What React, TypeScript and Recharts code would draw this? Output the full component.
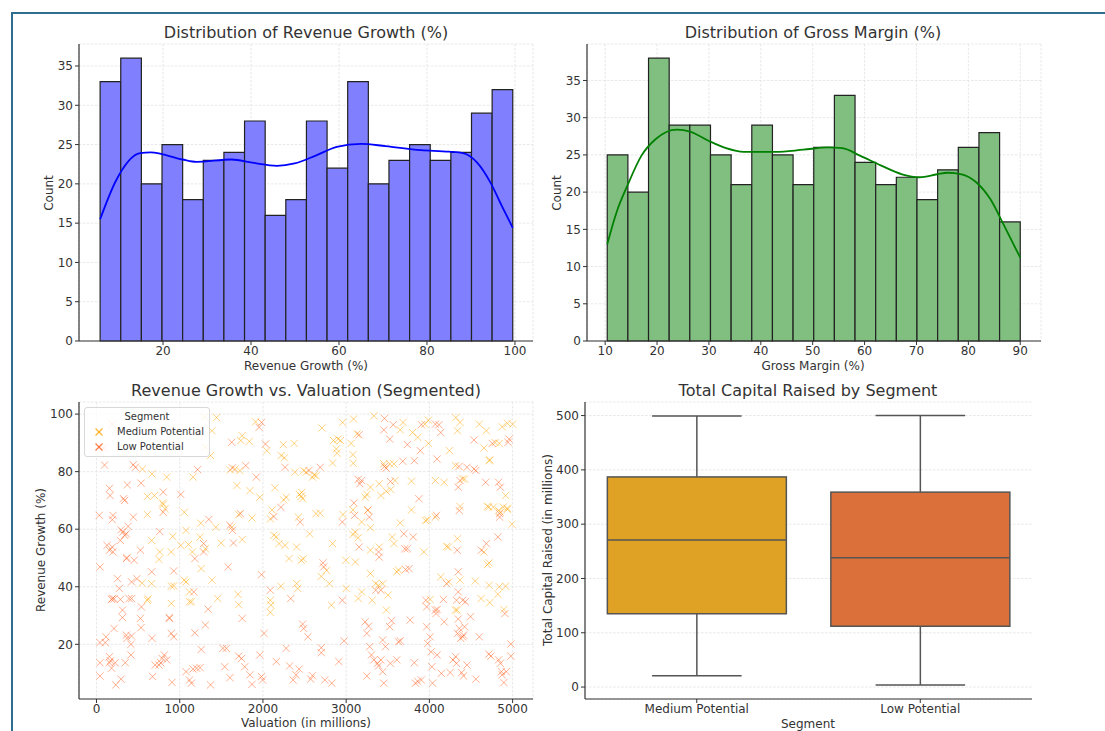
import React from "react";
import {
  ComposedChart,
  Line,
  XAxis,
  YAxis,
  CartesianGrid,
  ReferenceArea,
  ScatterChart,
  Scatter,
  BarChart,
  Bar,
  Cell,
} from "recharts";

const FONT = "'DejaVu Sans', sans-serif";
const TEXT = "#333333";
const AXIS = "#333333";
const GRID = "#e2e2e2";
const MEDIUM = "#ffa500";
const LOW = "#ff6020";

// ---- histogram: revenue growth ----
const revenueEdges = [
  5.7, 10.39, 15.08, 19.77, 24.46, 29.15, 33.84, 38.53, 43.22, 47.91, 52.6,
  57.29, 61.98, 66.67, 71.36, 76.05, 80.74, 85.43, 90.12, 94.81, 99.5,
];
const revenueCounts = [33, 36, 20, 25, 18, 23, 24, 28, 16, 18, 28, 22, 33, 20, 23, 25, 23, 24, 29, 32];
const revenueKdeX = [5.7, 9.3, 14.8, 17.2, 24.4, 27.6, 35.6, 40.3, 45.9, 49.9, 54.7, 59.5, 65, 70.6, 78.6, 85, 88.2, 91.4, 94.5, 97, 99.5];
const revenueKdeY = [15.5, 20.4, 23.9, 24.0, 23.1, 22.8, 23.1, 22.7, 22.3, 22.6, 23.6, 24.7, 25.1, 24.8, 24.3, 24.1, 23.9, 22.7, 20.1, 17.2, 14.4];
const revenueTicks = [20, 40, 60, 80, 100];

// ---- histogram: gross margin ----
const marginEdges = [
  10.4, 14.38, 18.36, 22.34, 26.32, 30.3, 34.28, 38.26, 42.24, 46.22, 50.2,
  54.18, 58.16, 62.14, 66.12, 70.1, 74.08, 78.06, 82.04, 86.02, 90.0,
];
const marginCounts = [25, 20, 38, 29, 29, 25, 21, 29, 25, 21, 26, 33, 24, 21, 22, 19, 23, 26, 28, 16];
const marginKdeX = [10.4, 12.2, 14.3, 17.0, 19.7, 23.8, 26.5, 29.9, 33.3, 36.7, 42.8, 48.2, 52.9, 55.7, 59.1, 63.1, 67.2, 70.6, 74, 76, 78.7, 81.4, 84.2, 86.9, 90];
const marginKdeY = [13.0, 17.3, 20.9, 24.9, 27.1, 28.4, 28.1, 26.9, 25.9, 25.4, 25.4, 25.7, 26.0, 25.9, 24.9, 23.6, 22.4, 22.0, 22.4, 22.6, 22.4, 21.4, 19.1, 15.5, 11.2];
const marginTicks = [10, 20, 30, 40, 50, 60, 70, 80, 90];

const countTicks = [0, 5, 10, 15, 20, 25, 30, 35];

// ---- scatter: [valuation, revenue growth] ----
const mediumPoints = [
  [1443, 98.8], [1388, 94.2], [1371, 85.6], [1308, 88.5], [1300, 99.0], [1912, 97.3], [1751, 92.5], [1734, 90.8],
  [1836, 90.5], [2047, 87.3], [2245, 89.4], [2376, 89.8], [2220, 85.6], [2258, 84.8], [2709, 95.2], [2848, 90.8],
  [2903, 91.3], [2933, 90.8], [2882, 87.9], [2890, 86.4], [2958, 97.1], [3089, 98.3], [3060, 89.8], [3131, 93.1],
  [3081, 85.9], [3334, 99.4], [3684, 97.1], [3650, 94.5], [3798, 93.6], [3861, 91.9], [3946, 96.5], [3988, 97.9],
  [3988, 89.8], [4241, 87.3], [4317, 98.8], [4338, 94.2], [4368, 97.1], [4313, 82.1], [4423, 77.4], [4600, 96.5],
  [4684, 94.2], [4655, 88.2], [4790, 90.1], [4840, 89.8], [4874, 95.6], [4937, 96.8], [5000, 96.5], [4718, 83.8],
  [553, 80.9], [667, 79.2], [612, 71.4], [696, 71.7], [844, 78.1], [793, 69.1], [1160, 78.1], [1608, 80.6],
  [1667, 80.9], [1722, 80.4], [1688, 75.2], [1844, 73.4], [1962, 71.1], [2144, 74.4], [2249, 70.2], [2279, 71.1],
  [2384, 79.8], [2439, 72.1], [2460, 71.4], [2477, 70.6], [2465, 72.8], [2490, 80.4], [2519, 79.8], [2595, 78.1],
  [2616, 78.9], [2637, 78.6], [2836, 83.0], [3085, 82.9], [3228, 71.1], [3249, 72.1], [3292, 74.6], [3397, 75.8],
  [3418, 71.7], [3482, 73.2], [3536, 73.8], [3452, 82.7], [3524, 82.7], [3574, 82.7], [3587, 76.9], [3785, 76.7],
  [4072, 76.9], [4178, 76.3], [4397, 77.5], [4714, 67.7], [4726, 84.1], [4887, 67.7], [4832, 66.5], [4916, 71.7],
  [4937, 67.3], [4769, 67.7],
  [612, 65.1], [663, 56.1], [760, 52.1], [823, 67.1], [802, 68.6], [899, 52.1], [916, 57.5], [1013, 54.4],
  [1055, 65.9], [1076, 59.6], [1106, 54.7], [1152, 52.1], [1245, 57.3], [1253, 62.1], [1308, 53.2], [1435, 60.7],
  [1498, 55.2], [1625, 60.7], [1709, 65.1], [1751, 56.4], [1869, 63.9], [2089, 63.6], [2110, 66.7], [2131, 57.9],
  [2161, 57.3], [2194, 55.0], [2266, 54.4], [2313, 49.8], [2405, 53.8], [2426, 64.2], [2561, 58.4], [2637, 65.4],
  [2688, 65.6], [2836, 55.0], [2962, 65.1], [3081, 66.7], [3081, 58.2], [3110, 59.0], [3144, 57.0], [3186, 62.5],
  [3258, 66.5], [3292, 60.5], [3292, 52.7], [3397, 53.8], [3553, 57.3], [3574, 55.0], [3650, 62.2], [3785, 66.7],
  [3933, 52.1], [3954, 63.0], [3975, 63.3], [4072, 64.2], [4207, 54.0], [4228, 53.8], [4338, 56.7], [4368, 67.9],
  [4655, 52.1], [4697, 67.9], [4853, 65.9], [4992, 61.7], [4937, 66.9],
  [549, 41.3], [663, 41.1], [620, 35.8], [612, 35.3], [751, 49.5], [899, 40.2], [928, 40.3], [899, 34.2],
  [1076, 41.7], [1118, 38.2], [1118, 34.8], [1140, 34.8], [1055, 42.3], [1258, 46.3], [1388, 42.3], [1456, 35.9],
  [1701, 37.4], [1709, 33.8], [2089, 35.3], [2097, 33.6], [2089, 31.1], [2216, 40.2], [2405, 41.1], [2418, 39.4],
  [2460, 49.2], [2485, 49.7], [2701, 43.6], [2764, 45.7], [2798, 41.1], [2823, 33.6], [3000, 39.4], [2996, 49.2],
  [3110, 48.6], [3144, 35.9], [3186, 38.2], [3292, 44.6], [3313, 35.3], [3355, 41.1], [3389, 40.5], [3440, 41.1],
  [3482, 31.9], [3503, 37.1], [3608, 45.2], [3629, 45.8], [4009, 35.6], [4136, 43.4], [4233, 41.7], [4313, 31.9],
  [4334, 31.9], [4368, 42.3], [4551, 42.0], [4621, 35.9], [4697, 47.7], [4718, 48.3], [4718, 40.5], [4726, 34.5],
  [4823, 37.4], [4916, 40.2], [4895, 32.1], [4840, 40.0],
];

const lowPoints = [
  [190, 96.5], [84, 88.2], [1983, 97.1], [1954, 95.4], [1625, 90.2], [2030, 89.6], [3156, 92.8], [3452, 94.5],
  [3460, 98.5], [3524, 91.3], [3566, 96.3], [3735, 89.4], [3904, 96.3], [3891, 87.3], [4072, 96.5], [4115, 96.3],
  [4136, 93.6], [4355, 81.8], [4452, 81.5], [4537, 91.0], [4756, 89.8], [4946, 90.2], [4958, 91.3], [4093, 84.4],
  [97, 82.3], [156, 74.2], [164, 71.7], [371, 75.4], [338, 70.0], [443, 82.4], [468, 81.5], [536, 76.0],
  [802, 72.9], [1013, 72.1], [1215, 80.7], [1633, 81.3], [1794, 82.1], [1920, 78.1], [2216, 67.6], [2266, 81.5],
  [2553, 80.4], [2688, 81.5], [3144, 77.3], [3186, 76.9], [3165, 75.8], [3460, 81.8], [3480, 81.2], [3532, 76.6],
  [3680, 83.6], [3819, 83.8], [3874, 70.6], [4347, 74.6], [4368, 76.9], [4537, 80.9], [4558, 80.4], [4676, 76.3],
  [4832, 76.3], [4853, 74.6],
  [34, 64.8], [127, 54.4], [156, 52.7], [190, 53.8], [198, 52.1], [198, 64.8], [190, 63.3], [295, 59.8],
  [316, 59.0], [338, 57.9], [325, 70.6], [359, 58.4], [380, 61.0], [287, 56.1], [367, 50.1], [443, 64.2],
  [452, 49.2], [528, 52.7], [760, 59.2], [802, 65.9], [1182, 49.8], [1287, 55.0], [1287, 52.1], [1350, 63.4],
  [1604, 61.3], [1633, 59.6], [1646, 55.2], [1730, 65.4], [2131, 64.4], [2448, 62.5], [2954, 62.5], [3093, 69.1],
  [3102, 64.8], [3156, 53.8], [3262, 66.7], [3279, 64.2], [3389, 52.1], [3397, 50.3], [3693, 58.4], [3705, 53.2],
  [3735, 53.2], [3806, 57.3], [4085, 64.8], [4334, 52.7], [4359, 66.5], [4625, 52.7], [4684, 55.0], [4823, 57.3],
  [4844, 65.4], [4844, 64.2],
  [42, 46.9], [253, 42.8], [274, 39.4], [287, 35.6], [190, 35.9], [181, 35.6], [211, 35.8], [422, 41.7],
  [486, 42.8], [392, 35.9], [422, 35.9], [359, 49.8], [312, 31.9], [540, 33.0], [663, 45.2], [928, 45.5],
  [874, 29.3], [1169, 38.2], [1583, 46.9], [1751, 29.0], [1983, 44.2], [2089, 38.8], [2334, 35.9], [2722, 48.3],
  [2730, 46.9], [2954, 35.3], [3355, 38.8], [3418, 38.8], [3714, 46.0], [3756, 46.3], [3958, 35.3], [3967, 33.0],
  [4072, 31.9], [4080, 30.7], [4093, 32.1], [4169, 35.6], [4207, 41.1], [4347, 38.2], [4326, 35.3], [4347, 45.2],
  [4401, 35.3], [4431, 34.8], [4907, 30.7],
  [42, 20.6], [105, 20.6], [114, 22.6], [42, 13.6], [42, 9.0], [156, 15.7], [156, 13.6], [168, 14.3],
  [181, 11.7], [224, 13.6], [211, 25.5], [232, 5.9], [295, 7.9], [312, 29.3], [346, 13.6], [359, 23.2],
  [367, 22.1], [414, 20.0], [422, 22.9], [414, 16.3], [528, 29.0], [536, 25.8], [667, 22.1], [675, 8.8],
  [705, 12.8], [751, 12.8], [772, 13.6], [789, 15.1], [815, 16.3], [844, 14.6], [878, 29.0], [899, 23.8],
  [928, 22.6], [907, 6.8], [1076, 10.5], [1118, 7.6], [1140, 6.5], [1160, 11.4], [1182, 24.0], [1203, 11.7],
  [1245, 11.9], [1258, 18.2], [1308, 26.7], [1342, 32.2], [1371, 5.9], [1519, 18.6], [1561, 18.6], [1540, 12.2],
  [1604, 8.4], [1709, 15.9], [1743, 15.1], [1781, 12.2], [1844, 9.4], [1869, 6.1], [1962, 16.3], [1983, 8.8],
  [1996, 7.6], [2013, 23.8], [2161, 14.0], [2279, 18.6], [2321, 12.5], [2363, 7.6], [2397, 9.4], [2435, 11.4],
  [2490, 25.5], [2477, 27.0], [2540, 22.6], [2574, 7.9], [2595, 9.1], [2701, 18.8], [2701, 17.1], [2743, 7.6],
  [2827, 6.5], [2912, 14.0], [2975, 21.2], [3228, 27.8], [3249, 23.8], [3249, 9.0], [3270, 26.3], [3283, 19.2],
  [3304, 16.3], [3334, 14.6], [3376, 13.4], [3389, 12.5], [3418, 14.6], [3439, 10.5], [3439, 21.5], [3452, 6.5],
  [3473, 19.2], [3524, 26.1], [3532, 13.4], [3545, 28.2], [3608, 14.6], [3629, 20.9], [3650, 21.2], [3768, 28.4],
  [3819, 13.6], [3832, 6.5], [3861, 7.1], [3904, 7.6], [3967, 26.1], [3979, 20.3], [4009, 22.6], [4021, 17.4],
  [4030, 12.2], [4038, 6.5], [4093, 16.3], [4144, 9.9], [4178, 27.8], [4250, 10.2], [4283, 14.6], [4317, 15.7],
  [4326, 13.4], [4338, 23.8], [4347, 28.8], [4359, 25.5], [4376, 22.1], [4401, 22.6], [4388, 10.2], [4410, 9.0],
  [4410, 23.2], [4423, 26.1], [4452, 12.8], [4494, 29.6], [4558, 7.9], [4600, 22.6], [4714, 16.6], [4739, 15.9],
  [4832, 14.6], [4853, 13.4], [4866, 10.5], [4874, 9.4], [4895, 6.7], [4924, 10.5], [4979, 15.9], [4979, 20.1],
];
const valuationTicks = [0, 1000, 2000, 3000, 4000, 5000];
const growthTicks = [20, 40, 60, 80, 100];

// ---- box plot: total capital raised ----
const segments = ["Medium Potential", "Low Potential"];
const capMin = [21, 4];
const capQ1 = [135, 112];
const capMedian = [271, 238];
const capQ3 = [387, 359];
const capMax = [499, 500];
const capitalTicks = [0, 100, 200, 300, 400, 500];
const boxColors = ["#dfa224", "#dc703a"];

const tickStyle = { fill: TEXT, fontSize: 12, fontFamily: FONT };
const axisLine = { stroke: AXIS, strokeWidth: 1.2 };
const tickLine = { stroke: AXIS, strokeWidth: 1 };

const Txt = ({ x, y, size = 12, rotate = false, children }: any) => (
  <div
    style={{
      position: "absolute",
      left: x,
      top: y,
      transform: `translate(-50%, -50%)${rotate ? " rotate(-90deg)" : ""}`,
      fontSize: size,
      fontFamily: FONT,
      color: TEXT,
      whiteSpace: "nowrap",
      lineHeight: 1,
    }}
  >
    {children}
  </div>
);

function Histogram({ width, left, edges, counts, kdeX, kdeY, xDomain, yDomain, xTicks, fill, lineColor, yAxisWidth }: any) {
  const kde = kdeX.map((x: number, i: number) => ({ x, y: kdeY[i] }));
  return (
    <div style={{ position: "absolute", left, top: 0 }}>
      <ComposedChart
        width={width}
        height={380}
        data={kde}
        margin={{ top: 44, right: width - yAxisWidth - 454, bottom: 0, left: 0 }}
      >
        <CartesianGrid strokeDasharray="2.5 1.5" stroke={GRID} strokeWidth={0.8} />
        {counts.map((c: number, i: number) => (
          <ReferenceArea
            key={i}
            x1={edges[i]}
            x2={edges[i + 1]}
            y1={0}
            y2={c}
            fill={fill}
            fillOpacity={1}
            stroke="#222222"
            strokeWidth={1.2}
          />
        ))}
        <XAxis
          type="number"
          dataKey="x"
          domain={xDomain}
          ticks={xTicks}
          allowDataOverflow
          height={39}
          axisLine={axisLine}
          tickLine={tickLine}
          tickSize={4}
          tickMargin={1}
          tick={tickStyle}
        />
        <YAxis
          type="number"
          domain={yDomain}
          ticks={countTicks}
          allowDataOverflow
          width={yAxisWidth}
          axisLine={axisLine}
          tickLine={tickLine}
          tickSize={4}
          tickMargin={2}
          tick={tickStyle}
        />
        <Line
          type="monotone"
          dataKey="y"
          stroke={lineColor}
          strokeWidth={1.8}
          dot={false}
          isAnimationActive={false}
        />
      </ComposedChart>
    </div>
  );
}

const XMark = ({ cx, cy, color }: any) => {
  if (cx == null || cy == null) return null;
  const r = 3.6;
  return (
    <g stroke={color} strokeWidth={1} strokeOpacity={0.5}>
      <line x1={cx - r} y1={cy - r} x2={cx + r} y2={cy + r} />
      <line x1={cx - r} y1={cy + r} x2={cx + r} y2={cy - r} />
    </g>
  );
};

const BoxShape = (props: any) => {
  const { x, y, width, height, payload, fill } = props;
  const ppu = height / (payload.q3 - payload.q1);
  const py = (v: number) => y + (payload.q3 - v) * ppu;
  const cx = x + width / 2;
  const cap = width / 4;
  const edge = "#555555";
  return (
    <g>
      <line x1={cx} x2={cx} y1={py(payload.max)} y2={py(payload.q3)} stroke={edge} strokeWidth={1.5} />
      <line x1={cx} x2={cx} y1={py(payload.q1)} y2={py(payload.min)} stroke={edge} strokeWidth={1.5} />
      <line x1={cx - cap} x2={cx + cap} y1={py(payload.max)} y2={py(payload.max)} stroke={edge} strokeWidth={1.5} />
      <line x1={cx - cap} x2={cx + cap} y1={py(payload.min)} y2={py(payload.min)} stroke={edge} strokeWidth={1.5} />
      <rect x={x} y={y} width={width} height={height} fill={fill} stroke={edge} strokeWidth={1.5} />
      <line x1={x} x2={x + width} y1={py(payload.median)} y2={py(payload.median)} stroke={edge} strokeWidth={1.5} />
    </g>
  );
};

export default function App() {
  const medium = mediumPoints.map(([x, y]) => ({ x, y }));
  const low = lowPoints.map(([x, y]) => ({ x, y }));
  const boxData = segments.map((segment, i) => ({
    segment,
    min: capMin[i],
    q1: capQ1[i],
    median: capMedian[i],
    q3: capQ3[i],
    max: capMax[i],
  }));

  return (
    <div
      style={{
        position: "absolute",
        left: 0,
        top: 0,
        width: 1105,
        height: 731,
        overflow: "hidden",
        background: "#ffffff",
      }}
    >
      <div
        style={{
          position: "absolute",
          left: 11,
          top: 12,
          width: 1105,
          height: 731,
          borderTop: "2px solid #2d6e90",
          borderLeft: "2px solid #2d6e90",
        }}
      />

      <Histogram
        width={560}
        left={0}
        edges={revenueEdges}
        counts={revenueCounts}
        kdeX={revenueKdeX}
        kdeY={revenueKdeY}
        xDomain={[0.9, 104.1]}
        yDomain={[0, 37.8]}
        xTicks={revenueTicks}
        fill="#8080ff"
        lineColor="#0000ff"
        yAxisWidth={79}
      />
      <Histogram
        width={555}
        left={550}
        edges={marginEdges}
        counts={marginCounts}
        kdeX={marginKdeX}
        kdeY={marginKdeY}
        xDomain={[6.5, 94.0]}
        yDomain={[0, 39.9]}
        xTicks={marginTicks}
        fill="#80bf80"
        lineColor="#008000"
        yAxisWidth={37}
      />

      <div style={{ position: "absolute", left: 0, top: 370 }}>
        <ScatterChart width={560} height={361} margin={{ top: 32, right: 27, bottom: 0, left: 0 }}>
          <CartesianGrid strokeDasharray="2.5 1.5" stroke={GRID} strokeWidth={0.8} />
          <XAxis
            type="number"
            dataKey="x"
            domain={[-210, 5245]}
            ticks={valuationTicks}
            allowDataOverflow
            height={32}
            axisLine={axisLine}
            tickLine={tickLine}
            tickSize={4}
            tickMargin={1}
            tick={tickStyle}
          />
          <YAxis
            type="number"
            dataKey="y"
            domain={[1, 104.2]}
            ticks={growthTicks}
            allowDataOverflow
            width={79}
            axisLine={axisLine}
            tickLine={tickLine}
            tickSize={4}
            tickMargin={2}
            tick={tickStyle}
          />
          <Scatter data={medium} shape={(p: any) => <XMark {...p} color={MEDIUM} />} isAnimationActive={false} />
          <Scatter data={low} shape={(p: any) => <XMark {...p} color={LOW} />} isAnimationActive={false} />
        </ScatterChart>
      </div>

      <div style={{ position: "absolute", left: 540, top: 370 }}>
        <BarChart
          width={565}
          height={361}
          data={boxData}
          margin={{ top: 32, right: 73, bottom: 0, left: 0 }}
          barCategoryGap="10%"
        >
          <CartesianGrid vertical={false} strokeDasharray="2.5 1.5" stroke={GRID} strokeWidth={0.8} />
          <XAxis
            dataKey="segment"
            height={32}
            axisLine={axisLine}
            tickLine={tickLine}
            tickSize={4}
            tickMargin={1}
            tick={tickStyle}
          />
          <YAxis
            type="number"
            domain={[-22, 525]}
            ticks={capitalTicks}
            allowDataOverflow
            width={45}
            axisLine={axisLine}
            tickLine={tickLine}
            tickSize={4}
            tickMargin={2}
            tick={tickStyle}
          />
          <Bar dataKey={(d: any) => [d.q1, d.q3]} shape={BoxShape} isAnimationActive={false}>
            {boxData.map((d, i) => (
              <Cell key={d.segment} fill={boxColors[i]} />
            ))}
          </Bar>
        </BarChart>
      </div>

      {/* scatter legend */}
      <div
        style={{
          position: "absolute",
          left: 84,
          top: 407,
          width: 124,
          height: 48,
          border: "1px solid #d8d8d8",
          borderRadius: 3,
          background: "rgba(255,255,255,0.8)",
          fontFamily: FONT,
          fontSize: 10,
          color: TEXT,
        }}
      >
        <div style={{ position: "absolute", left: 0, width: 124, top: 3, textAlign: "center" }}>Segment</div>
        {[
          { label: segments[0], color: MEDIUM, y: 24 },
          { label: segments[1], color: LOW, y: 39 },
        ].map((e) => (
          <React.Fragment key={e.label}>
            <svg style={{ position: "absolute", left: 9, top: e.y - 5 }} width={10} height={10}>
              <line x1={1.5} y1={1.5} x2={8.5} y2={8.5} stroke={e.color} strokeWidth={1.3} strokeOpacity={0.8} />
              <line x1={1.5} y1={8.5} x2={8.5} y2={1.5} stroke={e.color} strokeWidth={1.3} strokeOpacity={0.8} />
            </svg>
            <div style={{ position: "absolute", left: 32, top: e.y - 6, whiteSpace: "nowrap" }}>{e.label}</div>
          </React.Fragment>
        ))}
      </div>

      <Txt x={306} y={33} size={16}>Distribution of Revenue Growth (%)</Txt>
      <Txt x={306} y={366}>Revenue Growth (%)</Txt>
      <Txt x={49} y={193} rotate>Count</Txt>

      <Txt x={813} y={33} size={16}>Distribution of Gross Margin (%)</Txt>
      <Txt x={813} y={366}>Gross Margin (%)</Txt>
      <Txt x={557} y={193} rotate>Count</Txt>

      <Txt x={306} y={391} size={16}>Revenue Growth vs. Valuation (Segmented)</Txt>
      <Txt x={306} y={723}>Valuation (in millions)</Txt>
      <Txt x={41} y={550} rotate>Revenue Growth (%)</Txt>

      <Txt x={808} y={391} size={16}>Total Capital Raised by Segment</Txt>
      <Txt x={808} y={724}>Segment</Txt>
      <Txt x={548} y={550} rotate>Total Capital Raised (in millions)</Txt>
    </div>
  );
}
